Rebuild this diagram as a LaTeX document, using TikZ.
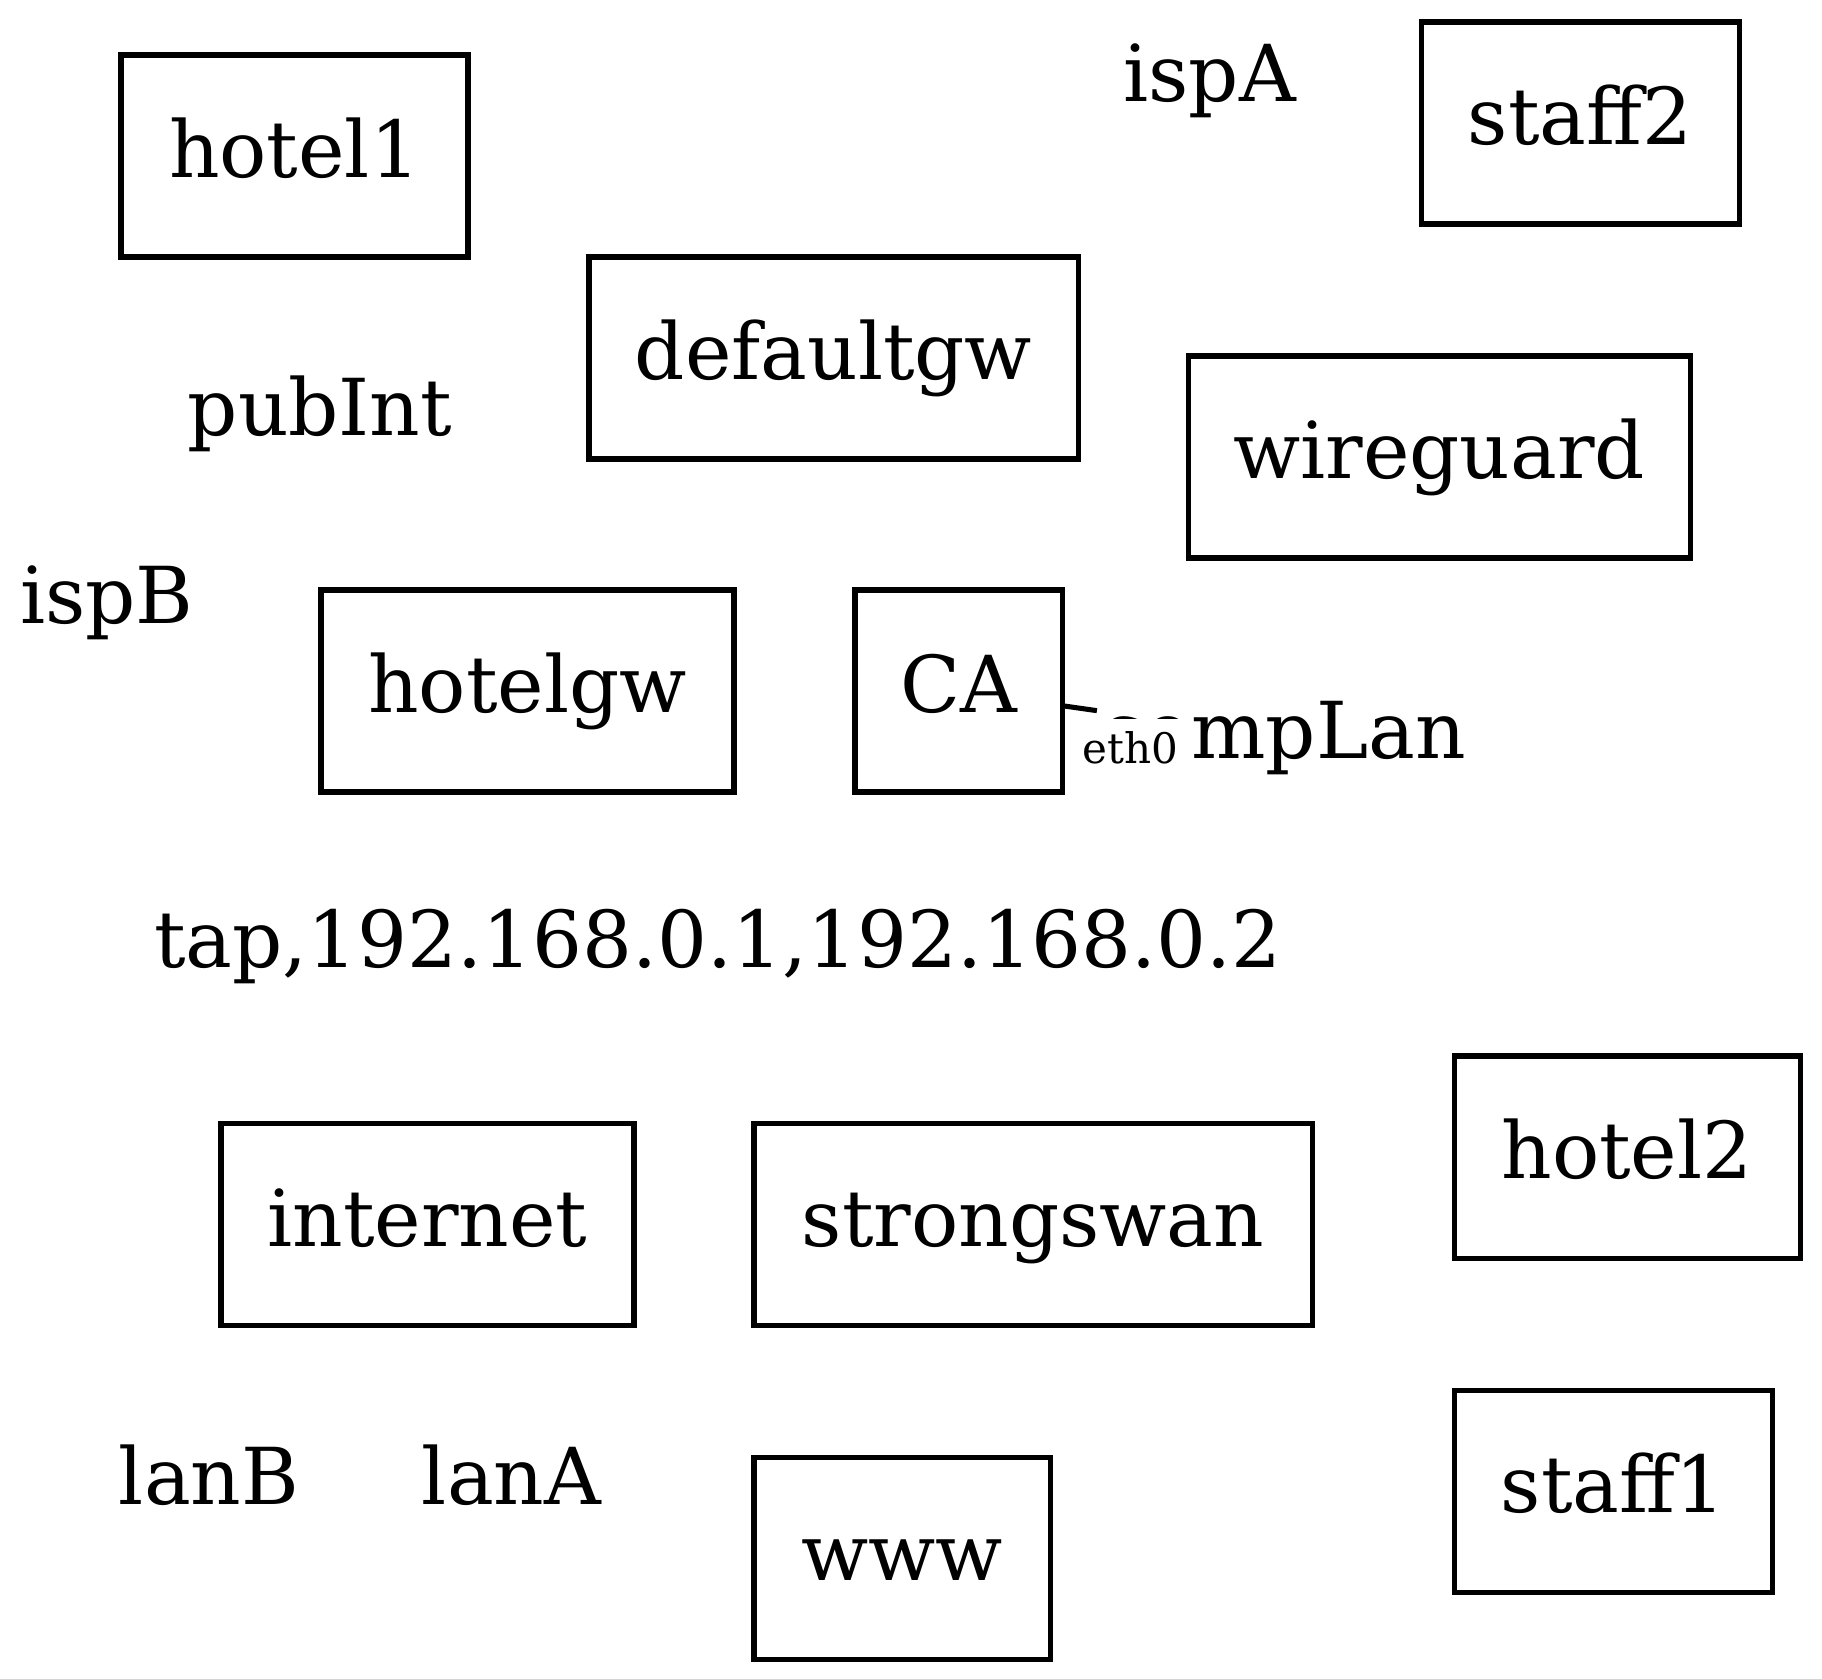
\documentclass[tikz,border=0pt]{standalone}
\usepackage{fontspec}
\setmainfont{DejaVu Serif}
\newcommand\pxu{0.17825pt}
\begin{document}
\begin{tikzpicture}[x=0.17825pt,y=-0.17825pt,
  lbl/.style={inner sep=0pt,font=\fontsize{14pt}{16pt}\selectfont,text height=10pt,text depth=2.2pt},
  boxnode/.style={lbl,draw,line width=0.9pt,minimum height=202*\pxu},
  small/.style={inner sep=0pt,font=\fontsize{7.5pt}{9pt}\selectfont}]
\useasboundingbox (0,0) rectangle (1822,1678);
% boxes
\node[boxnode,minimum width=347*\pxu] (hotel1) at (294.5,156) {hotel1};
\node[boxnode,minimum width=318*\pxu] (staff2) at (1580,123) {staff2};
\node[boxnode,minimum width=489*\pxu] (defaultgw) at (833.5,358) {defaultgw};
\node[boxnode,minimum width=502*\pxu] (wireguard) at (1439,457) {wireguard};
\node[boxnode,minimum width=413*\pxu] (hotelgw) at (527.5,691) {hotelgw};
\node[boxnode,minimum width=207*\pxu] (CA) at (958.5,691) {CA};
\node[boxnode,minimum width=413*\pxu] (internet) at (427.5,1224.5) {internet};
\node[boxnode,minimum width=558*\pxu] (strongswan) at (1033,1224.5) {strongswan};
\node[boxnode,minimum width=346*\pxu] (hotel2) at (1627,1157) {hotel2};
\node[boxnode,minimum width=318*\pxu] (staff1) at (1613,1491) {staff1};
\node[boxnode,minimum width=296*\pxu] (www) at (902,1558.5) {www};
% plain labels
\node[lbl] (ispA) at (1209.5,80) {ispA};
\node[lbl] (pubInt) at (320,414) {pubInt};
\node[lbl] (ispB) at (107,602) {ispB};
\node[lbl,minimum width=370*\pxu] (compLan) at (1283,737) {compLan};
\node[lbl] (tap) at (718,946) {tap,192.168.0.1,192.168.0.2};
\node[lbl] (lanB) at (209,1483) {lanB};
\node[lbl] (lanA) at (511.5,1483) {lanA};
% edge
\draw[line width=0.9pt] (CA) -- (compLan);
% port label with white background
\fill[white] (1079,719) rectangle (1189,785);
\node[small,anchor=base] (eth0) at (1130,763) {eth0};
\end{tikzpicture}
\end{document}
